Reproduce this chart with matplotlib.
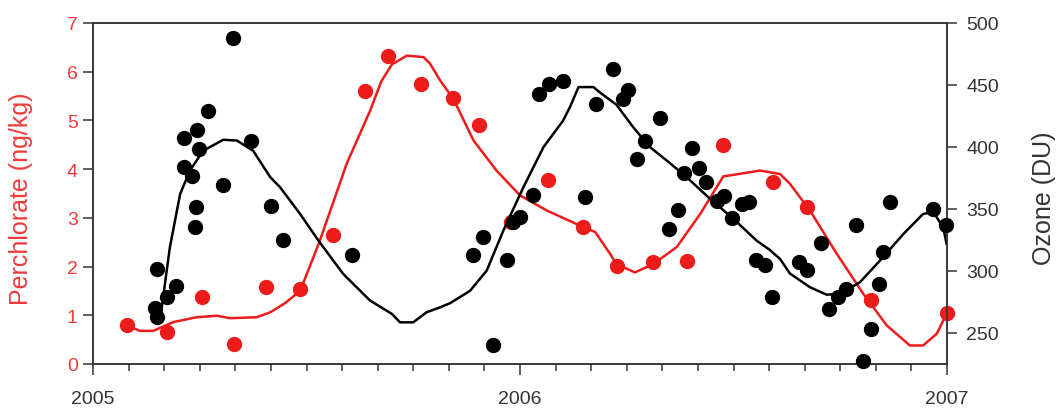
import numpy as np
import matplotlib
matplotlib.use("Agg")
import matplotlib.pyplot as plt
from matplotlib.ticker import MultipleLocator

plt.rcParams['font.family'] = ['Liberation Sans', 'DejaVu Sans']

''' Perchlorate samples (ng/kg) '''
perc_t = [2005.079, 2005.174, 2005.255, 2005.330, 2005.405, 2005.485, 2005.561,
          2005.637, 2005.690, 2005.768, 2005.844, 2005.905, 2005.978, 2006.066,
          2006.147, 2006.228, 2006.312, 2006.390, 2006.475, 2006.592, 2006.673,
          2006.821, 2006.999]
perc_v = [0.79, 0.65, 1.37, 0.41, 1.58, 1.54, 2.64, 5.60, 6.33, 5.74, 5.46, 4.90,
          2.91, 3.78, 2.82, 2.02, 2.09, 2.11, 4.49, 3.73, 3.22, 1.32, 1.04]

''' Perchlorate smoothed curve '''
perc_fit_t = [2005.079, 2005.110, 2005.141, 2005.188, 2005.243, 2005.290, 2005.321,
              2005.383, 2005.415, 2005.450, 2005.485, 2005.530, 2005.594, 2005.649,
              2005.675, 2005.700, 2005.735, 2005.774, 2005.789, 2005.813, 2005.844,
              2005.891, 2005.945, 2006.000, 2006.063, 2006.148, 2006.176, 2006.211,
              2006.226, 2006.269, 2006.312, 2006.367, 2006.422, 2006.476, 2006.562,
              2006.609, 2006.632, 2006.679, 2006.742, 2006.804, 2006.859, 2006.913,
              2006.944, 2006.976, 2006.999]
perc_fit_v = [0.79, 0.68, 0.68, 0.86, 0.96, 0.99, 0.94, 0.96, 1.06, 1.25, 1.50, 2.50,
              4.11, 5.20, 5.80, 6.15, 6.33, 6.30, 6.17, 5.82, 5.44, 4.59, 3.97, 3.46,
              3.15, 2.81, 2.71, 2.26, 2.05, 1.88, 2.05, 2.40, 3.08, 3.85, 3.97, 3.90,
              3.70, 3.15, 2.26, 1.44, 0.79, 0.38, 0.38, 0.62, 1.03]

''' Ozone samples (DU) '''
ozone_t = [2005.145, 2005.149, 2005.149, 2005.173, 2005.194, 2005.213, 2005.214,
           2005.231, 2005.239, 2005.241, 2005.243, 2005.249, 2005.270, 2005.305,
           2005.329, 2005.370, 2005.416, 2005.444, 2005.606, 2005.891, 2005.913,
           2005.937, 2005.970, 2005.984, 2006.000, 2006.030, 2006.045, 2006.069,
           2006.100, 2006.152, 2006.178, 2006.217, 2006.242, 2006.253, 2006.275,
           2006.293, 2006.328, 2006.350, 2006.371, 2006.384, 2006.402, 2006.420,
           2006.436, 2006.461, 2006.478, 2006.496, 2006.519, 2006.537, 2006.553,
           2006.574, 2006.589, 2006.654, 2006.671, 2006.704, 2006.724, 2006.745,
           2006.763, 2006.787, 2006.803, 2006.821, 2006.841, 2006.851, 2006.866,
           2006.968, 2006.998]
ozone_v = [270.2, 262.7, 301.7, 279.3, 288.2, 407.4, 384.2, 376.2, 335.8, 351.5,
           413.3, 398.5, 429.0, 369.7, 488.1, 405.2, 352.3, 325.3, 313.0, 313.2,
           327.2, 240.3, 308.9, 339.6, 343.6, 361.6, 442.9, 451.0, 453.6, 359.5,
           434.8, 463.0, 438.9, 446.1, 390.4, 404.7, 423.5, 333.9, 349.3, 378.9,
           399.3, 383.2, 371.6, 356.8, 360.8, 342.8, 354.1, 355.5, 308.9, 305.1,
           279.3, 307.0, 300.9, 322.4, 269.4, 278.8, 285.5, 337.2, 227.7, 253.2,
           289.6, 315.6, 355.5, 350.1, 337.2]

''' Ozone smoothed curve '''
ozone_fit_t = [2005.160, 2005.180, 2005.204, 2005.227, 2005.258, 2005.305, 2005.337,
               2005.375, 2005.415, 2005.438, 2005.485, 2005.528, 2005.586, 2005.649,
               2005.700, 2005.719, 2005.750, 2005.781, 2005.813, 2005.836, 2005.883,
               2005.922, 2005.961, 2006.008, 2006.055, 2006.101, 2006.117, 2006.137,
               2006.172, 2006.187, 2006.226, 2006.265, 2006.304, 2006.344, 2006.390,
               2006.445, 2006.500, 2006.554, 2006.585, 2006.609, 2006.632, 2006.679,
               2006.718, 2006.749, 2006.796, 2006.843, 2006.898, 2006.944, 2006.968,
               2006.991, 2006.999]
ozone_fit_v = [268.0, 319.0, 362.0, 381.0, 397.0, 405.8, 405.2, 397.0, 375.7, 367.6,
               346.0, 324.5, 297.6, 276.1, 265.4, 258.6, 258.6, 266.7, 270.7, 274.0,
               284.0, 300.3, 332.6, 367.6, 399.9, 421.3, 432.2, 448.3, 448.3, 444.0,
               434.0, 416.0, 400.0, 389.0, 375.7, 358.2, 342.0, 324.5, 317.0, 309.7,
               298.0, 286.9, 280.9, 281.5, 290.9, 308.4, 329.9, 346.0, 347.4, 335.3,
               321.8]

year_ticks = [2005, 2006, 2007]

red = '#ee1b1b'
red_txt = '#ee3b3b'
gray = '#333333'

fig = plt.figure(figsize=(10.58, 4.10), dpi=100)
ax = fig.add_axes([0.0879, 0.1098, 0.8072, 0.8317])
ax2 = ax.twinx()

ax.plot(perc_fit_t, perc_fit_v, color=red, lw=1.8, zorder=2)
ax.plot(perc_t, perc_v, 'o', color=red, ms=10, mec=red, clip_on=False, zorder=3)

ax2.plot(ozone_fit_t, ozone_fit_v, color='black', lw=1.8, zorder=2)
ax2.plot(ozone_t, ozone_v, 'o', color='black', ms=10, mec='black', clip_on=False, zorder=3)

ax.set_xlim(2005, 2007)
ax.set_ylim(0, 7)
ax2.set_ylim(225, 500)

ax.set_xticks(year_ticks)
ax.set_xticklabels([str(y) for y in year_ticks])
ax.xaxis.set_minor_locator(MultipleLocator(1 / 12))
ax.yaxis.set_major_locator(MultipleLocator(1))
ax2.set_yticks([250, 300, 350, 400, 450, 500])

for a in (ax, ax2):
    for s in a.spines.values():
        s.set_color(gray)
        s.set_linewidth(1.1)

ax.tick_params(axis='x', which='major', direction='out', length=8, width=1.1,
               color=gray, labelsize=14, labelcolor=gray, pad=11)
ax.tick_params(axis='x', which='minor', direction='out', length=5, width=1.1, color=gray)
ax.tick_params(axis='y', direction='out', length=7, width=1.1, color=gray,
               labelsize=14, labelcolor=red_txt, pad=4)
ax2.tick_params(axis='y', direction='out', length=7, width=1.1, color=gray,
                labelsize=14, labelcolor=gray, pad=7)

ax.set_ylabel('Perchlorate (ng/kg)', fontsize=18, color=red_txt)
ax.yaxis.set_label_coords(-0.070, 0.488)
ax2.set_ylabel('Ozone (DU)', fontsize=18, color=gray, rotation=90)
ax2.yaxis.set_label_coords(1.100, 0.488)

fig.savefig('out.png', dpi=100)
